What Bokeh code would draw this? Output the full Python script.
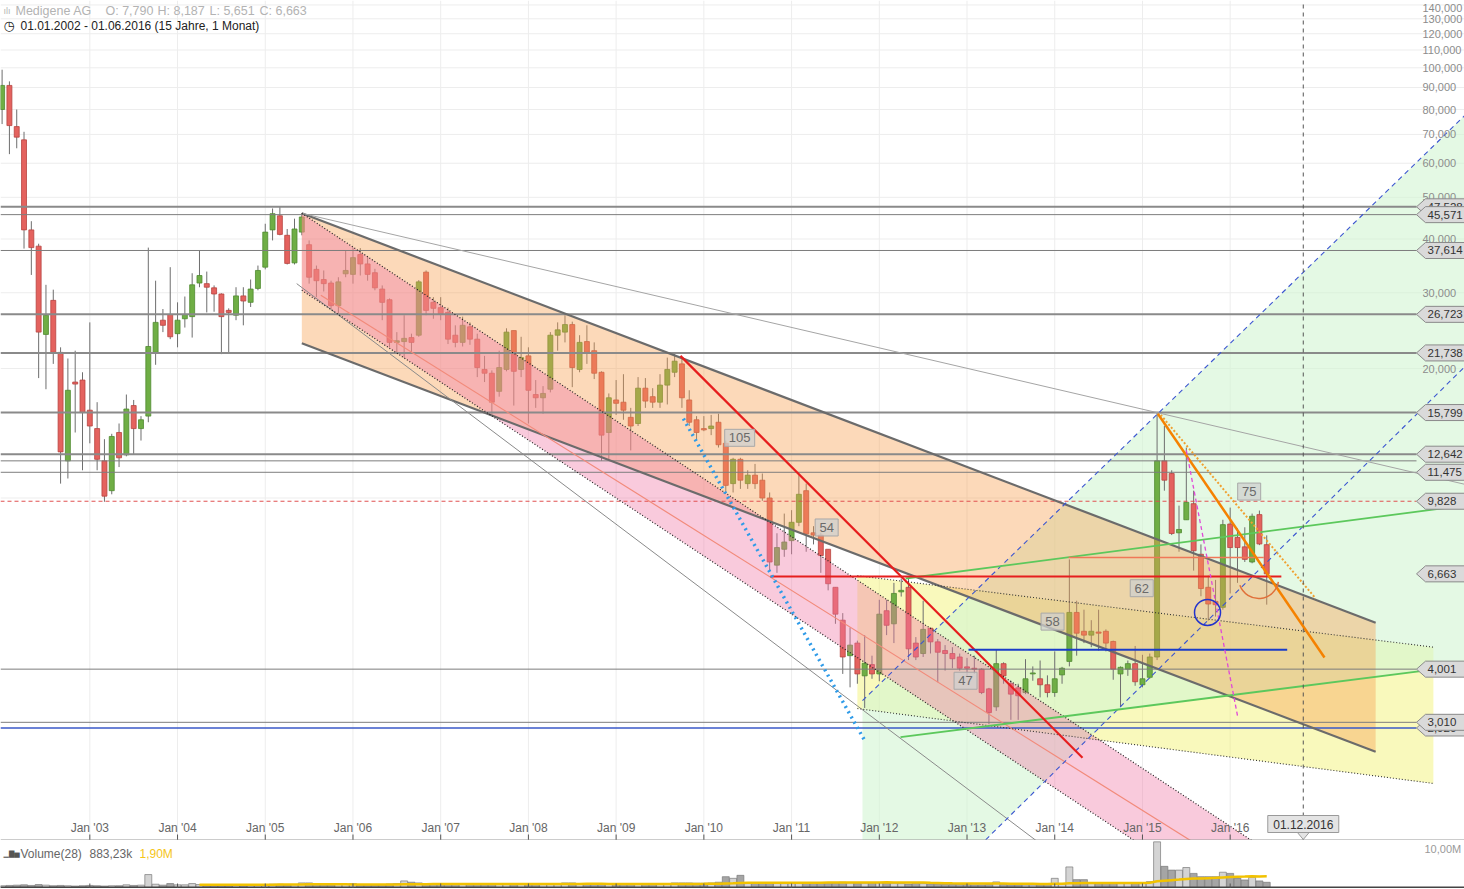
import numpy as np
from bokeh.plotting import figure
from bokeh.layouts import column
from bokeh.models import Range1d
from bokeh.core.properties import value
from bokeh.embed import file_html
from bokeh.resources import INLINE

FONT = value("Liberation Sans")

# ---------------- monthly candles, Jan 2002 (index 0) .. Jun 2016 (index 173) ----------------
open_ = [
    80, 91, 73, 68, 42, 38.5, 24, 28.8, 21.8, 12.2, 18.6, 18.8,
    16.0, 14.5, 12.2, 10.4, 14.2, 12.6, 16.4, 14.5, 15.5, 21.8, 25.9, 26.7,
    24.1, 26.1, 26.4, 31.6, 31.5, 30.8, 29.8, 27.3, 26.6, 29.5, 28.5, 30.7,
    34.4, 42.0, 45.3, 40.8, 35.2, 41.5, 38.8, 34.0, 32.2, 31.6, 28.0, 33.2,
    33.1, 36.8, 35.0, 33.4, 30.6, 28.9, 23.0, 23.1, 23.6, 23.9, 33.5, 28.5,
    27.7, 27.0, 23.9, 23.0, 25.0, 23.4, 19.9, 19.5, 17.7, 19.9, 24.5, 19.9,
    21.4, 17.4, 17.1, 17.9, 23.9, 24.3, 25.3, 19.9, 23.1, 22.0, 19.6, 14.2,
    16.9, 16.7, 15.4, 14.9, 18.0, 17.2, 16.7, 18.3, 19.6, 20.5, 16.9, 15.2,
    14.5, 14.5, 15.0, 13.4, 10.8, 12.3, 10.8, 11.3, 11.0, 10.0, 6.98, 7.6,
    7.96, 8.78, 10.4, 8.3, 8.2, 7.6, 6.2, 5.2, 4.3, 4.6, 3.86, 4.1,
    3.9, 5.47, 5.1, 6.05, 6.2, 4.6, 4.35, 4.98, 4.63, 4.42, 4.35, 4.27,
    4.05, 4.02, 4.0, 3.6, 3.27, 4.12, 3.7, 3.62, 3.53, 3.9, 3.8, 3.68,
    3.53, 3.88, 4.17, 5.42, 4.9, 4.8, 4.88, 4.9, 4.64, 3.9, 4.0, 4.12,
    3.68, 3.83, 4.27, 12.2, 11.4, 8.3, 8.9, 9.7, 7.4, 6.2, 5.75, 5.57,
    8.7, 8.1, 7.7, 7.1, 9.15, 7.79,
]
high = [
    99, 93, 80, 71, 44, 39, 31.3, 30.5, 22.4, 21.1, 22.0, 19.6,
    25.6, 16.7, 13.7, 14.1, 14.9, 17.4, 16.9, 15.5, 38.2, 32.0, 27.5, 34.4,
    28.5, 29.4, 33.3, 37.6, 33.6, 31.2, 29.9, 27.6, 30.9, 30.9, 32.2, 34.7,
    43.4, 47.1, 47.5, 42.2, 44.6, 45.9, 39.7, 34.7, 33.8, 32.0, 32.6, 37.6,
    38.1, 38.1, 36.5, 34.1, 31.2, 29.1, 24.3, 26.6, 24.1, 32.1, 33.8, 29.3,
    29.3, 27.7, 25.2, 26.4, 25.6, 24.1, 21.4, 19.8, 22.0, 24.8, 24.5, 23.7,
    22.4, 18.8, 18.2, 24.3, 25.6, 26.6, 25.7, 23.9, 25.2, 23.0, 19.7, 17.5,
    18.8, 19.4, 16.2, 19.1, 19.0, 18.0, 19.4, 21.2, 21.8, 21.2, 17.8, 15.5,
    15.5, 15.6, 15.7, 13.6, 12.4, 12.4, 11.6, 12.0, 11.4, 10.3, 8.28, 9.2,
    9.37, 11.3, 10.8, 8.6, 8.3, 7.6, 6.2, 5.4, 5.0, 4.66, 4.8, 4.3,
    5.8, 5.8, 6.35, 6.5, 6.5, 4.75, 5.77, 5.0, 4.7, 4.55, 4.5, 4.35,
    4.25, 4.3, 4.02, 3.62, 4.45, 4.15, 3.76, 3.7, 4.22, 4.06, 4.19, 3.87,
    4.4, 4.05, 7.2, 5.77, 5.5, 5.2, 5.5, 4.95, 4.66, 4.06, 4.19, 4.53,
    4.32, 4.35, 15.8, 14.7, 11.6, 9.6, 13.1, 10.4, 7.8, 6.6, 6.45, 8.9,
    9.5, 8.5, 8.55, 9.2, 9.35, 8.187,
]
low = [
    74, 63, 65, 38, 33, 19, 17.9, 20.5, 10.8, 11.1, 14.2, 11.6,
    13.4, 11.6, 9.8, 10.2, 11.8, 12.5, 12.6, 13.6, 15.0, 20.4, 24.3, 23.4,
    22.4, 24.9, 23.6, 30.9, 27.0, 27.1, 21.6, 21.8, 25.9, 25.2, 27.8, 30.4,
    34.0, 39.7, 40.8, 34.9, 34.9, 40.8, 31.5, 29.3, 30.2, 27.5, 26.8, 32.6,
    31.5, 32.9, 32.0, 30.4, 25.9, 22.4, 21.8, 21.2, 21.7, 23.7, 26.6, 26.1,
    25.9, 22.8, 22.4, 22.5, 22.7, 19.1, 18.6, 15.7, 17.2, 19.7, 16.4, 19.1,
    14.9, 16.2, 15.7, 17.6, 22.0, 23.0, 18.1, 19.6, 20.5, 18.9, 12.2, 12.3,
    15.6, 15.2, 12.9, 14.7, 16.2, 16.2, 16.2, 16.5, 19.1, 16.2, 14.7, 13.6,
    14.3, 14.0, 13.1, 10.3, 10.3, 10.5, 10.5, 10.5, 9.85, 6.78, 6.7, 7.3,
    7.4, 8.6, 7.5, 7.8, 6.7, 6.1, 5.1, 3.9, 3.63, 3.7, 3.25, 3.8,
    3.75, 4.8, 4.6, 5.9, 4.2, 4.2, 4.27, 4.35, 3.73, 3.97, 4.02, 3.97,
    3.85, 3.9, 3.5, 2.98, 3.2, 3.7, 3.05, 3.05, 3.5, 3.76, 3.44, 3.44,
    3.45, 3.7, 4.06, 4.3, 4.6, 4.5, 4.42, 4.4, 3.78, 3.27, 3.86, 3.66,
    3.63, 3.8, 4.2, 10.4, 8.2, 7.5, 8.9, 6.78, 5.91, 5.19, 5.3, 5.5,
    6.0, 6.35, 7.1, 7.05, 7.77, 5.651,
]
close = [
    91, 73.4, 69, 42, 38.2, 24.3, 26.6, 21.8, 12.8, 17.8, 18.4, 15.8,
    14.7, 12.3, 10.1, 13.9, 12.4, 16.1, 14.5, 15.2, 22.5, 25.6, 25.2, 23.7,
    25.9, 26.7, 31.3, 32.9, 30.9, 29.8, 26.4, 27.0, 29.5, 28.7, 30.6, 33.8,
    41.5, 45.8, 41.0, 35.1, 42.2, 45.0, 32.6, 32.0, 31.5, 28.0, 31.8, 33.8,
    36.2, 35.0, 33.1, 30.8, 28.5, 23.0, 23.2, 23.5, 23.0, 31.8, 27.3, 27.6,
    26.8, 23.4, 23.0, 25.2, 23.4, 20.1, 19.5, 16.7, 20.1, 24.3, 19.7, 21.2,
    17.8, 17.1, 17.5, 23.9, 24.6, 25.3, 20.1, 23.0, 21.8, 19.5, 14.0, 17.1,
    16.6, 16.0, 14.7, 18.0, 16.8, 16.7, 18.3, 19.9, 20.8, 17.1, 15.0, 14.2,
    14.4, 14.7, 13.3, 10.7, 12.3, 11.0, 11.3, 10.8, 10.0, 7.10, 7.67, 7.9,
    8.78, 10.2, 8.25, 8.2, 7.35, 6.32, 5.37, 4.27, 4.55, 3.9, 4.13, 3.9,
    5.37, 5.06, 6.0, 6.1, 4.46, 4.27, 4.95, 4.63, 4.38, 4.35, 4.23, 4.02,
    4.02, 4.0, 3.53, 3.17, 4.12, 3.86, 3.5, 3.47, 3.8, 3.92, 3.68, 3.53,
    3.8, 4.02, 5.42, 4.85, 4.8, 4.9, 4.85, 4.6, 4.0, 4.04, 4.12, 3.74,
    3.8, 4.27, 12.2, 11.0, 8.27, 8.45, 9.77, 7.54, 6.16, 5.67, 5.65, 8.67,
    7.67, 7.67, 7.2, 9.07, 7.82, 6.663,
]
volume_m = [
    0.30, 0.35, 0.40, 0.45, 0.35, 0.50, 0.40, 0.30, 0.35, 0.30, 0.25, 0.30,
    0.35, 0.30, 0.25, 0.30, 0.30, 0.45, 0.35, 0.40, 2.20, 0.56, 0.40, 0.67,
    0.45, 0.45, 0.67, 0.50, 0.40, 0.35, 0.40, 0.35, 0.40, 0.40, 0.45, 0.50,
    0.50, 0.56, 0.56, 0.45, 0.50, 0.78, 0.78, 0.50, 0.45, 0.45, 0.56, 0.56,
    0.67, 0.50, 0.50, 0.45, 0.50, 0.60, 0.67, 1.12, 0.90, 0.78, 0.60, 0.56,
    0.67, 0.67, 0.56, 0.50, 0.50, 0.56, 0.50, 0.60, 0.56, 0.50, 0.50, 0.50,
    0.60, 0.56, 0.50, 0.50, 0.50, 0.78, 0.78, 0.67, 0.67, 0.67, 0.60, 0.56,
    0.50, 0.50, 0.56, 0.67, 0.67, 0.56, 0.56, 0.60, 0.78, 0.78, 0.78, 0.73,
    0.73, 0.78, 0.90, 1.84, 1.56, 2.07, 0.78, 0.73, 0.73, 0.80, 0.73, 0.67,
    0.67, 0.73, 0.78, 0.73, 0.73, 0.67, 0.80, 0.90, 0.80, 0.67, 0.73, 0.80,
    0.80, 0.80, 0.73, 0.67, 0.60, 0.73, 0.67, 0.56, 0.56, 0.50, 0.50, 0.56,
    0.50, 0.45, 0.45, 0.50, 0.95, 0.50, 0.45, 0.45, 0.40, 0.40, 0.45, 0.50,
    1.56, 0.60, 3.50, 1.34, 1.34, 0.80, 0.80, 0.70, 0.70, 0.70, 0.70, 0.70,
    0.80, 1.00, 7.77, 3.60, 2.96, 2.96, 3.40, 2.40, 1.84, 1.84, 1.84, 2.60,
    2.40, 1.56, 1.28, 1.73, 1.12, 0.88323,
]
volume_ma_period = 28

year_tick_months = [12, 24, 36, 48, 60, 72, 84, 96, 108, 120, 132, 144, 156, 168]
year_tick_labels = ["Jan '03", "Jan '04", "Jan '05", "Jan '06", "Jan '07", "Jan '08", "Jan '09",
                    "Jan '10", "Jan '11", "Jan '12", "Jan '13", "Jan '14", "Jan '15", "Jan '16"]
price_ticks = [140, 130, 120, 110, 100, 90, 80, 70, 60, 50, 40, 30, 20, 10]
price_tick_labels = ["140,000", "130,000", "120,000", "110,000", "100,000", "90,000", "80,000",
                     "70,000", "60,000", "50,000", "40,000", "30,000", "20,000", "10,000"]

# horizontal levels (price)
levels_thick = [47.528, 26.723, 21.738, 15.799, 12.642]
levels_thin = [45.571, 37.614, 12.2, 11.475, 4.001, 3.010]
level_red_dashed = 9.828
level_blue = 2.92
tag_prices = [47.528, 45.571, 37.614, 26.723, 21.738, 15.799, 12.642, 11.475, 9.828, 6.663, 4.001, 2.92, 3.010]

# drawing anchors (month index, price)
chan_top_m, chan_top_p = [41, 187.9], [45.9, 5.13]
chan_bot_m, chan_bot_p = [41, 187.9], [22.9, 2.57]
pink_top_m, pink_top_p = [41, 175], [45.9, 1.44]
pink_bot_m, pink_bot_p = [41, 175], [30.4, 0.95]
salmon_m, salmon_p = [43.6, 166], [29.6, 1.47]
gray_long_m, gray_long_p = [41, 200.1], [45.9, 10.76]
gray_steep_m, gray_steep_p = [40.3, 145], [31.5, 1.44]
red_trend_m, red_trend_p = [92.8, 147.8], [21.4, 2.49]
red_hline_m, red_hline_p = [105.1, 175.0], [6.57, 6.57]
blue_dot_m, blue_dot_p = [93.2, 118.0], [15.3, 2.73]
blue_hline_m, blue_hline_p = [132.2, 175.8], [4.44, 4.44]
salmon_hline_m, salmon_hline_p = [145.9, 172.6], [7.27, 7.27]
orange_m, orange_p = [158.1, 180.9], [15.7, 4.26]
orange_dot_m, orange_dot_p = [158.5, 179.7], [15.6, 5.84]
magenta_m, magenta_p = [162.0, 169.0], [12.9, 3.12]
bu_m, bu_p = [117.7, 200.1], [3.38, 77.5]
bl_m, bl_p = [132.8, 200.1], [1.5, 20.2]
green_up_m, green_up_p = [123.6, 200.1], [6.50, 9.61]
green_lo_m, green_lo_p = [122.9, 200.1], [2.78, 4.08]
yel_top_m, yel_top_p = [117.0, 195.8], [6.60, 4.50]
yel_bot_m, yel_bot_p = [117.0, 195.8], [3.24, 2.17]
green_zone_m = [117.7, 117.7, 200.1, 200.1, 152.6, 132.8]
green_zone_p = [1.5, 3.38, 77.5, 4.08, 3.22, 1.5]
circle_m, circle_p = 164.9, 5.42
arc_m, arc_p = 171.9, 6.50
future_month = 178
note_m = [100.9, 112.8, 131.8, 143.7, 155.9, 170.6]
note_p = [13.8, 8.54, 3.76, 5.16, 6.17, 10.35]
note_t = ["105", "54", "47", "58", "62", "75"]

# ---------------- layout helpers (reference pixel grid -> data) ----------------
PX_MONTH, PX_X0, PX_Y20, PX_OCT = 7.31, 1.6, 368.0, 129.5
W, H_MAIN, H_VOL = 1464, 840, 48


def mx(px):
    return (px - PX_X0) / PX_MONTH


def py(px):
    return 20.0 * 2 ** ((PX_Y20 - px) / PX_OCT)


def fmt(v, nd=3):
    return f"{v:.{nd}f}".replace(".", ",")


n = len(close)
months = np.arange(n)
o, h, l, c = map(np.array, (open_, high, low, close))
up = c >= o

xr = Range1d(mx(0), mx(W))
yr = Range1d(py(H_MAIN), py(0))

p = figure(width=W, height=H_MAIN, x_range=xr, y_range=yr, y_axis_type="log",
           x_axis_location=None, y_axis_location=None, toolbar_location=None,
           output_backend="svg", min_border=0)
p.grid.visible = False
p.outline_line_color = None
p.background_fill_color = "white"
p.border_fill_color = "white"

X_LEFT, X_RIGHT = mx(0), mx(W)
Y_BOT, Y_TOP = py(H_MAIN), py(0)

# grid
k = len(year_tick_months)
p.segment(x0=year_tick_months, x1=year_tick_months, y0=[Y_BOT] * k, y1=[Y_TOP] * k,
          line_color="#ededed", line_width=1)
m_ = len(price_ticks)
p.segment(x0=[X_LEFT] * m_, x1=[X_RIGHT] * m_, y0=price_ticks, y1=price_ticks,
          line_color="#ededed", line_width=1)

# background zones (below candles)
p.patch(x=yel_top_m + yel_bot_m[::-1], y=yel_top_p + yel_bot_p[::-1],
        fill_color="#f0f060", fill_alpha=0.42, line_color=None)
p.patch(x=green_zone_m, y=green_zone_p, fill_color="#d2f5d2", fill_alpha=0.6, line_color=None)

# candles
p.segment(x0=months, x1=months, y0=l, y1=h, line_color="#6e6e6e", line_width=1)
p.vbar(x=months[up], width=0.68, bottom=o[up], top=c[up],
       fill_color="#6fae45", line_color="#4f8a30", line_width=0.8)
p.vbar(x=months[~up], width=0.68, bottom=c[~up], top=o[~up],
       fill_color="#e4625e", line_color="#b84440", line_width=0.8)

# translucent channels (above candles)
p.patch(x=chan_top_m + chan_bot_m[::-1], y=chan_top_p + chan_bot_p[::-1],
        fill_color="#f8a050", fill_alpha=0.4, line_color=None)
p.patch(x=pink_top_m + pink_bot_m[::-1], y=pink_top_p + pink_bot_p[::-1],
        fill_color="#f07aa8", fill_alpha=0.4, line_color=None)

# horizontal levels
for v in levels_thick:
    p.line([X_LEFT, mx(1416)], [v, v], line_color="#8a8a8a", line_width=2)
for v in levels_thin:
    p.line([X_LEFT, mx(1416)], [v, v], line_color="#7d7d7d", line_width=1)
p.line([X_LEFT, mx(1416)], [level_red_dashed] * 2, line_color="#e05050", line_width=1, line_dash="4 3")
p.line([X_LEFT, mx(1416)], [level_blue] * 2, line_color="#3a58c8", line_width=1.6)

# trend lines / drawings
p.line(chan_top_m, chan_top_p, line_color="#6b6b6b", line_width=2.2)
p.line(chan_bot_m, chan_bot_p, line_color="#6b6b6b", line_width=2.2)
p.line(gray_long_m, gray_long_p, line_color="#a5a5a5", line_width=1)
p.line(gray_steep_m, gray_steep_p, line_color="#8a8a8a", line_width=1)
p.line(pink_top_m, pink_top_p, line_color="#222222", line_width=1.2, line_dash="1 2")
p.line(pink_bot_m, pink_bot_p, line_color="#222222", line_width=1.2, line_dash="1 2")
p.line(salmon_m, salmon_p, line_color="#f28a7a", line_width=1.2)
p.line(yel_top_m, yel_top_p, line_color="#333333", line_width=1.1, line_dash="1 2")
p.line(yel_bot_m, yel_bot_p, line_color="#333333", line_width=1.1, line_dash="1 2")
p.line(bu_m, bu_p, line_color="#3a55d0", line_width=1.1, line_dash="5 4")
p.line(bl_m, bl_p, line_color="#3a55d0", line_width=1.1, line_dash="5 4")
p.line(green_up_m, green_up_p, line_color="#5cc85c", line_width=1.8)
p.line(green_lo_m, green_lo_p, line_color="#5cc85c", line_width=1.8)
p.line(red_trend_m, red_trend_p, line_color="#e61e1e", line_width=2.2)
p.line(red_hline_m, red_hline_p, line_color="#e61e1e", line_width=2)
p.line(blue_dot_m, blue_dot_p, line_color="#2f9be8", line_width=3.5, line_dash="2 4")
p.line(blue_hline_m, blue_hline_p, line_color="#1a3cc8", line_width=2)
p.line(salmon_hline_m, salmon_hline_p, line_color="#f07858", line_width=1.5)
p.line(orange_m, orange_p, line_color="#f58200", line_width=2.5)
p.line(orange_dot_m, orange_dot_p, line_color="#f0a030", line_width=2, line_dash="2 2")
p.line(magenta_m, magenta_p, line_color="#e048d8", line_width=1.3, line_dash="4 3")
p.scatter(x=[circle_m], y=[circle_p], marker="circle", size=26, fill_color=None,
          line_color="#2233cc", line_width=1.5)
p.arc(x=[arc_m], y=[arc_p], radius=20, radius_units="screen", start_angle=200, end_angle=350,
      start_angle_units="deg", end_angle_units="deg", line_color="#e0703a", line_width=1.5)
p.line([future_month, future_month], [Y_BOT, Y_TOP], line_color="#555555", line_width=1, line_dash="4 4")

# note boxes
p.rect(x=note_m, y=note_p, width=[30 if len(t) == 3 else 23 for t in note_t], height=17,
       width_units="screen", height_units="screen", fill_color="#cfcfcf", fill_alpha=0.75,
       line_color="#a8a8a8")
p.text(x=note_m, y=note_p, text=note_t, text_font=FONT, text_font_size="13px", text_color="#6a6a6a",
       text_align="center", text_baseline="middle")

# right price scale labels
p.text(x=[mx(1422)] * len(price_ticks), y=price_ticks, text=price_tick_labels, text_font=FONT,
       text_font_size="11px", text_color="#8c8c8c", text_align="left", text_baseline="middle",
       y_offset=[3 if v == max(price_ticks) else 0 for v in price_ticks])

# price tags
f = 2 ** (8 / PX_OCT)
tip, bl_, br_ = mx(1416), mx(1425), mx(1475)
for v in tag_prices:
    p.patch(x=[tip, bl_, br_, br_, bl_], y=[v, v * f, v * f, v / f, v / f],
            fill_color="#dadada", line_color="#8a8a8a", line_width=1)
    p.text(x=[mx(1427)], y=[v], text=[fmt(v)], text_font=FONT, text_font_size="11.5px",
           text_color="#333333", text_align="left", text_baseline="middle")

# x axis labels (inside plot, bottom)
p.text(x=year_tick_months, y=[py(827)] * k, text=year_tick_labels, text_font=FONT,
       text_font_size="12px", text_color="#666666", text_align="center", text_baseline="middle")
p.segment(x0=year_tick_months, x1=year_tick_months, y0=[py(834)] * k, y1=[py(840)] * k,
          line_color="#555555", line_width=1)
p.line([X_LEFT, X_RIGHT], [py(839.5)] * 2, line_color="#9a9a9a", line_width=1.2)

# future date callout
half = 35.5 / PX_MONTH
p.quad(left=[future_month - half], right=[future_month + half], bottom=[py(832)], top=[py(815)],
       fill_color="#e4e4e4", line_color="#9a9a9a")
p.patch(x=[future_month - 0.8, future_month + 0.8, future_month], y=[py(832), py(832), py(839)],
        fill_color="#e4e4e4", line_color="#9a9a9a")
p.text(x=[future_month], y=[py(823.5)], text=["01.12.2016"], text_font=FONT, text_font_size="12px",
       text_color="#333333", text_align="center", text_baseline="middle")

# header
p.text(x=[mx(3)], y=[py(10)], text=["ılı"], text_font=FONT, text_font_size="9px",
       text_color="#b5b5b5", text_align="left", text_baseline="middle")
hdr = ["Medigene AG", f"O: {fmt(open_[-1])}", f"H: {fmt(high[-1])}", f"L: {fmt(low[-1])}",
       f"C: {fmt(close[-1])}"]
p.text(x=[mx(15), mx(105), mx(157), mx(209), mx(259)], y=[py(10)] * 5, text=hdr, text_font=FONT,
       text_font_size="12.5px", text_color="#b3b3b3", text_align="left", text_baseline="middle")
p.text(x=[mx(3)], y=[py(25)], text=["◷"], text_font=value("DejaVu Sans"), text_font_size="13px",
       text_color="#222222", text_align="left", text_baseline="middle")
p.text(x=[mx(20)], y=[py(25)], text=["01.01.2002 - 01.06.2016 (15 Jahre, 1 Monat)"], text_font=FONT,
       text_font_size="12px", text_color="#222222", text_align="left", text_baseline="middle")

# ---------------- volume panel ----------------
vol = np.array(volume_m)
ma = np.convolve(vol, np.ones(volume_ma_period) / volume_ma_period, mode="valid")
ma_x = months[volume_ma_period - 1:]
VTOP, VBOT = 8.0, -0.17
vpx = (VTOP - VBOT) / H_VOL

pv = figure(width=W, height=H_VOL, x_range=xr, y_range=Range1d(VBOT, VTOP),
            x_axis_location=None, y_axis_location=None, toolbar_location=None,
            output_backend="svg", min_border=0)
pv.grid.visible = False
pv.outline_line_color = None
pv.background_fill_color = "white"
pv.border_fill_color = "white"
pv.vbar(x=months[up], width=0.95, top=vol[up], bottom=0, fill_color="#d4d4d4",
        line_color="#7a7a7a", line_width=0.7)
pv.vbar(x=months[~up], width=0.95, top=vol[~up], bottom=0, fill_color="#a5a5a5",
        line_color="#7a7a7a", line_width=0.7)
pv.line(ma_x, ma, line_color="#f2c200", line_width=2.5)
pv.line([X_LEFT, X_RIGHT], [VBOT + 1.2 * vpx] * 2, line_color="#444444", line_width=1.5)
pv.segment(x0=year_tick_months, x1=year_tick_months, y0=[VBOT] * k, y1=[VBOT + 5 * vpx] * k,
           line_color="#555555", line_width=1)
hy = VTOP - 13 * vpx
pv.text(x=[mx(3)], y=[hy], text=["▁▇▅"], text_font=value("DejaVu Sans"), text_font_size="7px",
        text_color="#555555", text_align="left", text_baseline="middle")
pv.text(x=[mx(20), mx(89)], y=[hy, hy], text=[f"Volume({volume_ma_period})", f"{fmt(vol[-1] * 1000, 2)}k"],
        text_font=FONT, text_font_size="12px", text_color="#666666", text_align="left",
        text_baseline="middle")
pv.text(x=[mx(139)], y=[hy], text=[f"{fmt(ma[-1], 2)}M"], text_font=FONT, text_font_size="12px",
        text_color="#f5c518", text_align="left", text_baseline="middle")
pv.text(x=[mx(1424)], y=[VTOP - 8 * vpx], text=["10,00M"], text_font=FONT, text_font_size="11px",
        text_color="#9a9a9a", text_align="left", text_baseline="middle")

layout = column(p, pv, spacing=0)
open("out.html", "w").write(file_html(layout, INLINE))
